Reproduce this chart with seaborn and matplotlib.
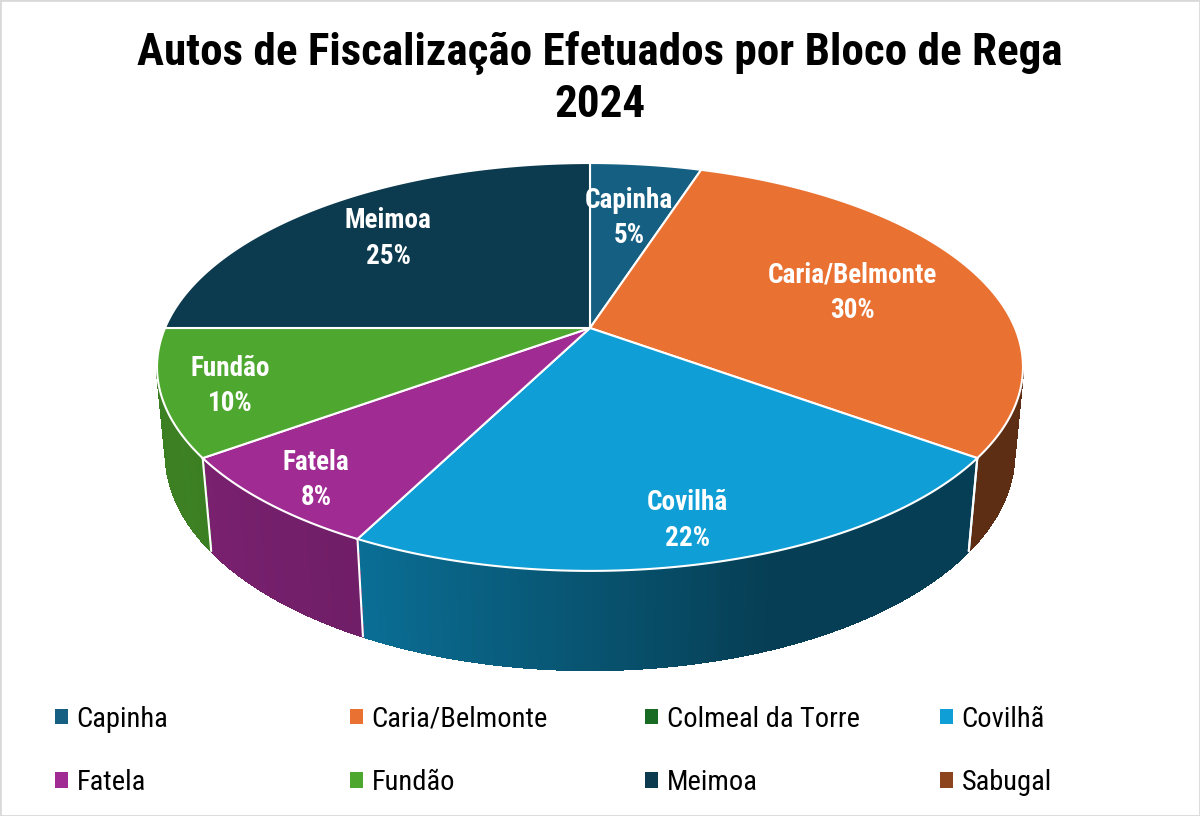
import numpy as np
import matplotlib
matplotlib.use("Agg")
import matplotlib.pyplot as plt
import seaborn as sns
from matplotlib import font_manager
from matplotlib.patches import Polygon, Patch, Rectangle
from matplotlib.collections import PolyCollection
from matplotlib.colors import to_rgb

categories = ["Capinha", "Caria/Belmonte", "Colmeal da Torre", "Covilhã",
              "Fatela", "Fundão", "Meimoa", "Sabugal"]
counts = [2, 12, 0, 9, 3, 4, 10, 0]
colors = ["#156082", "#E97132", "#196B24", "#0F9ED5",
          "#A02B93", "#4EA72E", "#0C3A4E", "#8C441E"]
title = "Autos de Fiscalização Efetuados por Bloco de Rega\n2024"

sns.set_theme(style="white")

def pick_font(names):
    for n in names:
        try:
            font_manager.findfont(n, fallback_to_default=False)
            return n
        except ValueError:
            pass
    return "DejaVu Sans"

FONT = pick_font(["Liberation Sans Narrow", "Roboto Condensed", "Open Sans Condensed",
                  "Roboto", "Lato"])
plt.rcParams["font.family"] = [FONT, "DejaVu Sans"]
plt.rcParams["text.color"] = "black"

# tilted disc seen in perspective (fitted by eye)
CX, CY = 590, 328
RX, RY = 425, 196.5
PERSP = 0.191
DEPTH_W, DEPTH_Y = 0.02, 87

def project(theta, r=1.0, t=0.0):
    u = r * np.sin(theta)
    v = r * np.cos(theta)
    w = 1 + PERSP * v + DEPTH_W * t
    return CX + RX * u / w, CY + (-RY * v + DEPTH_Y * t) / w

def shade(deg):
    return np.interp(deg, [100, 160, 207, 240, 265], [0.40, 0.40, 0.70, 0.77, 0.76])

fig = plt.figure(figsize=(12, 8.16), dpi=100)
ax = fig.add_axes([0, 0, 1, 1])
ax.set_xlim(0, 1200)
ax.set_ylim(816, 0)
ax.axis("off")

total = sum(counts)
fracs = np.array(counts) / total
edges = np.concatenate([[0], np.cumsum(fracs)]) * 360
vis_lo = np.degrees(np.arccos(-PERSP))
vis_hi = 360 - vis_lo

# side walls, drawn as thin strips so the shading can vary around the rim
polys, fcs = [], []
for i, c in enumerate(counts):
    if c == 0:
        continue
    a0, a1 = max(edges[i], vis_lo), min(edges[i + 1], vis_hi)
    if a1 <= a0:
        continue
    steps = np.linspace(a0, a1, int((a1 - a0) * 2) + 2)
    base = np.array(to_rgb(colors[i]))
    for d0, d1 in zip(steps[:-1], steps[1:]):
        t0, t1 = np.radians(d0), np.radians(d1)
        pts = [project(t0), project(t1), project(t1, t=1), project(t0, t=1)]
        polys.append(pts)
        fcs.append(base * shade((d0 + d1) / 2))
ax.add_collection(PolyCollection(polys, facecolors=fcs, edgecolors=fcs,
                                 linewidths=1.0, antialiased=False))

for d in edges:
    if vis_lo < d < vis_hi:
        t = np.radians(d)
        x0, y0 = project(t)
        x1, y1 = project(t, t=1)
        ax.plot([x0, x1], [y0, y1], color="white", lw=1.5)

# top faces and labels
for i, c in enumerate(counts):
    if c == 0:
        continue
    th = np.radians(np.linspace(edges[i], edges[i + 1], 200))
    xs, ys = project(th)
    pts = np.column_stack([np.r_[CX, xs], np.r_[CY, ys]])
    ax.add_patch(Polygon(pts, closed=True, facecolor=colors[i], edgecolor="white", lw=1.5))

    mid = np.radians((edges[i] + edges[i + 1]) / 2)
    r = 0.76 - 0.09 * np.cos(mid) - 0.06 * np.sin(mid)
    lx, ly = project(mid, r=r)
    pct = round(100 * c / total)
    ax.text(lx, ly + 4, f"{categories[i]}\n{pct}%", color="white", fontsize=19.5,
            fontweight="bold", ha="center", va="center", linespacing=1.4)

fig.suptitle(title, x=0.5, y=1 - 31 / 816, va="top", fontsize=32.5,
             fontweight="bold", linespacing=1.28, color="black")

# legend: one two-row block per column, evenly spaced as in the reference
for col in range(4):
    idx = [col, col + 4]
    handles = [Patch(facecolor=colors[k], edgecolor="none") for k in idx]
    leg = fig.legend(handles, [categories[k] for k in idx], loc="center left",
                     frameon=False, fontsize=20.5, handlelength=0.45, handleheight=0.45,
                     handletextpad=0.3, labelspacing=1.27, borderpad=0,
                     labelcolor="black")
    leg.set_bbox_to_anchor(((41 + 295 * col) / 1200, 1 - 751 / 816),
                           transform=fig.transFigure)

fig.patches.append(Rectangle((0, 0), 1, 1, transform=fig.transFigure, fill=False,
                             edgecolor="#d9d9d9", lw=2))

fig.savefig("out.png", dpi=100)
